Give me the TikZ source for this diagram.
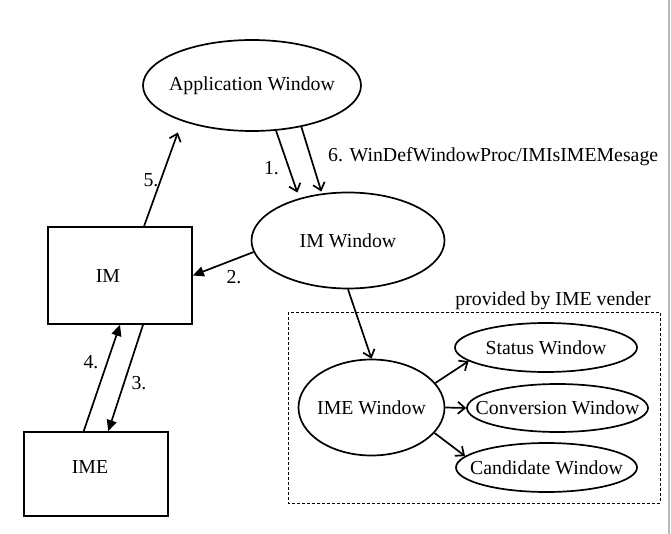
\documentclass[tikz,border=0pt]{standalone}
\usepackage{fontspec}
\setmainfont{Liberation Serif}
\usetikzlibrary{shapes, arrows.meta, positioning}

\newcommand{\winfont}{\fontsize{19.8}{23}\selectfont}

\tikzset{
  win/.style={draw, ellipse, line width=1.7pt, inner sep=0pt},
  box/.style={draw, rectangle, line width=1.7pt, inner sep=0pt},
  lbl/.style={inner sep=0pt, font=\winfont},
  openarrow/.style={line width=1.7pt, -{Straight Barb[length=7pt, width=12pt, line width=1.7pt]}},
  fillarrow/.style={line width=1.7pt, -{Triangle[length=11pt, width=10pt]}}
}

\begin{document}
\begin{tikzpicture}[x=1pt, y=-1pt, font=\winfont]
    \useasboundingbox (0,0) rectangle (671,534);
    % right border of the window
    \draw[gray!55, line width=1.5pt] (669,0) -- (669,534);

    % Windows
    \node[win, minimum width=218pt, minimum height=91pt, label={[lbl]center:Application Window}] (app) at (252,85.5) {};
    \node[win, minimum width=193pt, minimum height=96pt, label={[lbl]center:IM Window}] (imwin) at (348,240.5) {};
    \node[win, minimum width=146pt, minimum height=96pt, label={[lbl]center:IME Window}] (imewin) at (371.5,407.5) {};
    \node[win, minimum width=182pt, minimum height=49pt, label={[lbl]center:Status Window}] (stat) at (546,347.5) {};
    \node[win, minimum width=181pt, minimum height=48pt, label={[lbl]center:Conversion Window}] (conv) at (557.5,408) {};
    \node[win, minimum width=181pt, minimum height=49pt, label={[lbl]center:Candidate Window}] (cand) at (546.5,467.5) {};

    % Modules
    \node[box, minimum width=144pt, minimum height=97pt] (im) at (120,275.5) {};
    \node[lbl] (imtext) at (108,276) {IM};
    \node[box, minimum width=144pt, minimum height=84pt] (ime) at (96,474) {};
    \node[lbl] (imetext) at (90,467) {IME};

    % Vendor part
    \draw[line width=0.9pt, dash pattern=on 3pt off 2pt] (288,312) rectangle (660,503);
    \node[lbl] (vender) at (553,301) {provided by IME vender};

    % Message flow
    \draw[openarrow, shorten >=6pt] (app.298) -- (imwin.139);
    \draw[openarrow, shorten >=2pt] (app.320) -- (imwin.119);
    \draw[fillarrow] (imwin.187) -- (im.east);
    \draw[fillarrow] (im.-65) -- (ime.74);
    \draw[fillarrow] (ime.106) -- (im.south);
    \draw[openarrow, shorten >=12pt] (im.64) -- (app.207);
    \draw[openarrow] (imwin.south) -- (imewin.north);
    \foreach \a/\b in {21/stat.190, 0/conv.west, -22/cand.172} {
        \draw[openarrow] (imewin.\a) -- (\b);
    }

    % Step numbers
    \node[lbl] (s1) at (271.5,168) {1.};
    \node[lbl] (s2) at (234,277) {2.};
    \node[lbl] (s3) at (139,383) {3.};
    \node[lbl] (s4) at (91,362) {4.};
    \node[lbl] (s5) at (151,180) {5.};
    \node[lbl, anchor=west] (s6) at (328,157) {6. WinDefWindowProc/IMIsIMEMesage};
\end{tikzpicture}
\end{document}
